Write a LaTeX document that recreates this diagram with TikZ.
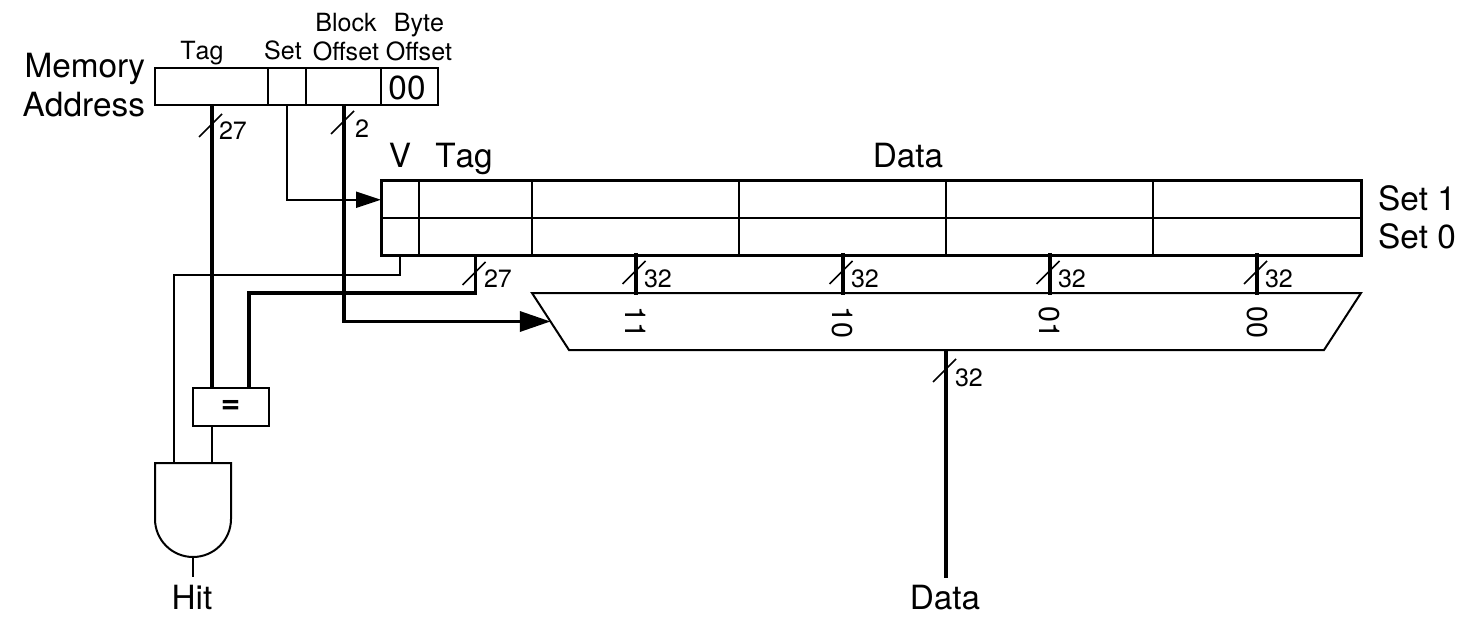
\documentclass[tikz,border=0pt]{standalone}
\usepackage{fontspec}
\setmainfont[Kerning=Off]{TeX Gyre Heros}
\usetikzlibrary{arrows.meta,calc}
\newcommand{\smallf}{\fontsize{18.8}{22}\selectfont}
\newcommand{\bigf}{\fontsize{25}{30}\selectfont}
\newcommand{\muxf}{\fontsize{21.5}{24}\selectfont}
% bus tick: name, wire x, tick top y, label, label left x, label baseline y
\newcommand{\busmark}[6]{%
  \coordinate (#1a) at (#2-13,#3+23);
  \coordinate (#1b) at (#2+10,#3);
  \draw[wireC] (#1a) -- (#1b);
  \node[lab,anchor=base west] (#1l) at (#5,#6) {\smallf #4};
}
\tikzset{
  x=0.75pt,y=-0.75pt,
  wh/.style 2 args={minimum width=#1*0.75pt,minimum height=#2*0.75pt},
  cellbox/.style={draw=black,line width=1.5pt,inner sep=0pt,outer sep=0pt,fill=white},
  tablecell/.style={draw=black,line width=1.5pt,inner sep=0pt,outer sep=0pt},
  wireA/.style={line width=1.5pt,draw=black},
  wireB/.style={line width=2.6pt,draw=black},
  wireC/.style={line width=1.3pt,draw=black},
  wireD/.style={line width=3pt,draw=black},
  lab/.style={inner sep=0pt,outer sep=0pt,text=black},
  smalltip/.style={-{Triangle[length=18.75pt,width=12pt]}},
  bigtip/.style={-{Triangle[length=23pt,width=15pt]}},
}
\begin{document}
\begin{tikzpicture}
\useasboundingbox (0,0) rectangle (1473,627);
% address fields
\node[cellbox,wh={114}{37}] (atag) at (212,86.5) {};
\node[cellbox,wh={38}{37}] (aset) at (287,86.5) {};
\node[cellbox,wh={76}{37}] (ablock) at (344,86.5) {};
\node[cellbox,wh={57}{37}] (abyte) at (409.5,86.5) {};
\node[lab] (zero) at (407,87.5) {\bigf 00};
\node[lab,anchor=base east] (memory) at (145,78) {\bigf Memory};
\node[lab,anchor=base east] (address) at (145,117) {\bigf Address};
\node[lab,anchor=base] (ltag) at (202,60) {\smallf Tag};
\node[lab,anchor=base] (lset) at (283,60) {\smallf Set};
\node[lab,anchor=base] (lblock) at (346,32) {\smallf Block};
\node[lab,anchor=base] (lboff) at (346,61) {\smallf Offset};
\node[lab,anchor=base] (lbyte) at (419,32) {\smallf Byte};
\node[lab,anchor=base] (lbyoff) at (419,61) {\smallf Offset};
% table
\foreach \nm/\cx/\w in {v/400/38,t/475.5/113,d3/635.5/207,d2/842.5/207,d1/1049.5/207,d0/1257/208}{
  \node[tablecell,wh={\w}{37.5}] (\nm1) at (\cx,199.75) {};
  \node[tablecell,wh={\w}{37.5}] (\nm0) at (\cx,237.25) {};
}
\draw[line width=2.25pt] (v1.north west) rectangle (d00.south east -| d01.east);
\node[lab,anchor=base] (lv) at (400,167.5) {\bigf V};
\node[lab,anchor=base] (ltt) at (464,167.5) {\bigf Tag};
\node[lab,anchor=base] (ldata) at (908,167.5) {\bigf Data};
\node[lab,anchor=base west] (lset1) at (1378,210.5) {\bigf Set 1};
\node[lab,anchor=base west] (lset0) at (1378,248.5) {\bigf Set 0};
% mux
\coordinate (m1) at (532,293);
\coordinate (m2) at (1361,293);
\coordinate (m3) at (1324,350);
\coordinate (m4) at (569,350);
\coordinate (msel) at (550.5,321.5);
\draw[line width=1.5pt,line join=miter] (m1) -- (m2) -- (m3) -- (m4) -- cycle;
\foreach \nm/\txt in {d3/11,d2/10,d1/01,d0/00}{
  \coordinate (\nm top) at (\nm0.south);
  \coordinate (\nm bot) at (\nm top |- m1);
  \draw[wireD] (\nm top) ++(0,-3) -- ($(\nm bot)+(0,2)$);
  \node[lab,rotate=-90] (mx\nm) at ($(\nm top |- m1)+(0,29)$) {\muxf \txt};
}
\busmark{b3}{635.5}{261}{32}{644}{287}
\busmark{b2}{842.5}{261}{32}{851}{287}
\busmark{b1}{1049.5}{261}{32}{1058}{287}
\busmark{b0}{1257}{261}{32}{1265}{287}
% data out
\coordinate (mout) at (946,349);
\node[lab,anchor=base] (dataout) at (945,609.5) {\bigf Data};
\coordinate (dataend) at (946,578);
\draw[wireD] (mout) -- (dataend);
\busmark{bd}{946}{359}{32}{955}{386}
% comparator and gate
\node[cellbox,wh={76}{38}] (eq) at (230.5,407) {\textbf{\bigf =}};
\coordinate (eqa) at (212,388);
\coordinate (eqb) at (249,388);
\coordinate (eqout) at (212,426);
\coordinate (anda) at (174,463);
\coordinate (andb) at (212,463);
\coordinate (andout) at (193,557);
\coordinate (hitend) at (193,577);
\draw[line width=1.5pt,fill=white] (155,463) -- (231,463) -- (231,519) arc[start angle=0,end angle=180,x radius=38,y radius=38] -- cycle;
\node[lab,anchor=base] (hit) at (192,609.5) {\bigf Hit};
% wires
\draw[wireB] (atag.south) -- (eqa);
\draw[wireA] (eqout) -- (andb);
\draw[wireA] (andout) -- (hitend);
\draw[wireB] (t0.south) |- ($(eqb)+(0,-95)$) -- (eqb);
\draw[line width=2pt] (v0.south) |- ($(anda)+(0,-188)$) -- (anda);
\draw[wireA,smalltip] (aset.south) |- (v1.west);
\draw[wireB,bigtip] (ablock.south) |- (msel);
\busmark{ba}{212}{114}{27}{219}{140}
\busmark{bb}{344}{111}{2}{355}{138}
\busmark{bt}{475.5}{262}{27}{484}{287}
\end{tikzpicture}
\end{document}
